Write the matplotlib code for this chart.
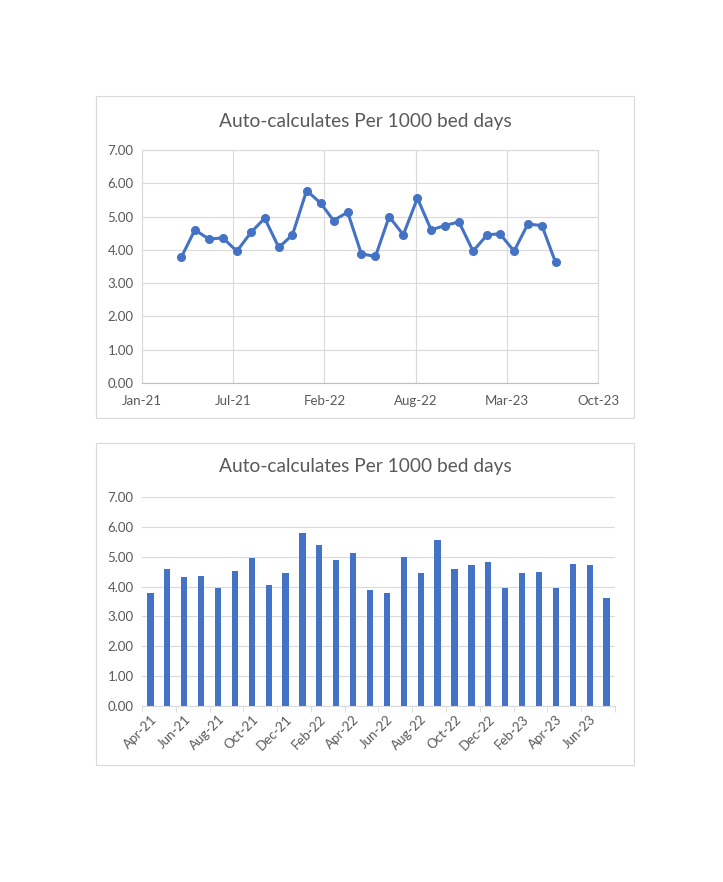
import matplotlib
matplotlib.use("Agg")
import matplotlib.pyplot as plt
import matplotlib.dates as mdates
from matplotlib.patches import Rectangle
import numpy as np
import datetime as dt

# monthly rates Apr-21 .. Jul-23
months = ["Apr-21", "May-21", "Jun-21", "Jul-21", "Aug-21", "Sep-21", "Oct-21",
          "Nov-21", "Dec-21", "Jan-22", "Feb-22", "Mar-22", "Apr-22", "May-22",
          "Jun-22", "Jul-22", "Aug-22", "Sep-22", "Oct-22", "Nov-22", "Dec-22",
          "Jan-23", "Feb-23", "Mar-23", "Apr-23", "May-23", "Jun-23", "Jul-23"]
rates = [3.77, 4.60, 4.32, 4.36, 3.96, 4.52, 4.95, 4.07, 4.45, 5.78, 5.40, 4.88,
         5.13, 3.88, 3.80, 5.00, 4.45, 5.55, 4.60, 4.73, 4.84, 3.96, 4.45, 4.48,
         3.96, 4.77, 4.73, 3.62]
title = "Auto-calculates Per 1000 bed days"

dates = [dt.datetime.strptime(m, "%b-%y") for m in months]

blue = "#4472C4"
grid = "#D9D9D9"
txt = "#595959"
plt.rcParams['font.family'] = ['Lato', 'DejaVu Sans']

fig = plt.figure(figsize=(7.23, 8.82), dpi=100)

# chart frames
for b in [0.5261, 0.1327]:
    fig.patches.append(Rectangle((0.1328, b), 0.7441, 0.3655, transform=fig.transFigure,
                                 fill=False, edgecolor="#D9D9D9", linewidth=0.8))

# --- line chart ---
ax1 = fig.add_axes([0.1964, 0.5658, 0.6307, 0.2642])
ax1.plot(dates, rates, color=blue, linewidth=2.2, marker="o", markersize=5.5)
start = mdates.date2num(dt.datetime(2021, 1, 5))
ticks = [start + 200 * i for i in range(6)]
ax1.set_xlim(ticks[0], ticks[-1])
ax1.set_xticks(ticks)
ax1.xaxis.set_major_formatter(mdates.DateFormatter("%b-%y"))
ax1.set_ylim(0, 7)
ax1.set_yticks(np.arange(0, 8, 1))
ax1.yaxis.set_major_formatter(matplotlib.ticker.FormatStrFormatter("%.2f"))
ax1.grid(True, color=grid, linewidth=0.8)
ax1.set_axisbelow(True)
for s in ax1.spines.values():
    s.set_color(grid)
    s.set_linewidth(0.8)
ax1.spines["bottom"].set_color("#BFBFBF")
ax1.tick_params(axis="y", length=0, labelsize=9.5, labelcolor=txt, pad=6)
ax1.tick_params(axis="x", length=0, labelsize=9.5, labelcolor=txt, pad=9)
fig.text(0.505, 1 - 121 / 882, title, ha="center", va="center", fontsize=13.8, color=txt)

# --- bar chart ---
ax2 = fig.add_axes([0.1964, 0.1995, 0.6542, 0.2370])
x = np.arange(len(months))
ax2.bar(x, rates, width=0.37, color=blue)
ax2.set_xlim(-0.5, len(months) - 0.5)
ax2.set_ylim(0, 7)
ax2.set_yticks(np.arange(0, 8, 1))
ax2.yaxis.set_major_formatter(matplotlib.ticker.FormatStrFormatter("%.2f"))
ax2.set_xticks(x[::2])
ax2.set_xticklabels(months[::2], rotation=45, ha="right", rotation_mode="anchor")
ax2.set_xticks(np.arange(-0.5, len(months), 2), minor=True)
ax2.grid(True, axis="y", color=grid, linewidth=0.8)
ax2.set_axisbelow(True)
for s in ["left", "right", "top"]:
    ax2.spines[s].set_visible(False)
ax2.spines["bottom"].set_color(grid)
ax2.tick_params(axis="y", length=0, labelsize=9.5, labelcolor=txt, pad=6)
ax2.tick_params(axis="x", which="major", length=0, labelsize=9.5, labelcolor=txt, pad=5)
ax2.tick_params(axis="x", which="minor", length=4, color=grid, direction="out")
fig.text(0.505, 1 - 467 / 882, title, ha="center", va="center", fontsize=13.8, color=txt)

fig.savefig("out.png", dpi=100)
